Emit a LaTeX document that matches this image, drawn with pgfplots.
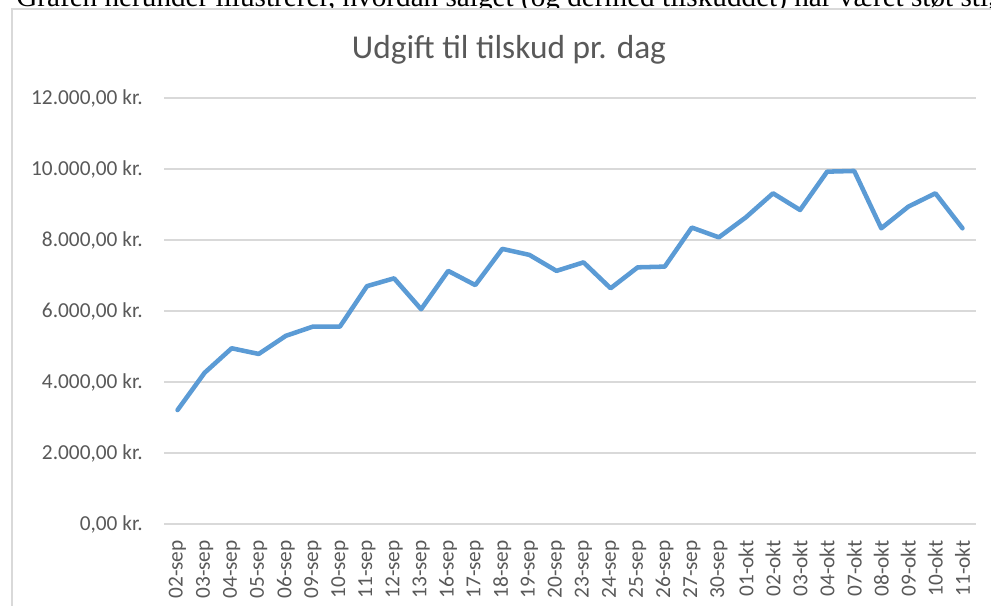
\documentclass[border=0pt]{standalone}
\usepackage{pgfplots}
\pgfplotsset{compat=1.18}
\usepackage{fontspec}
\setmainfont{Liberation Serif}
\newfontfamily\carlito{Carlito}
\definecolor{txtgray}{HTML}{595959}
\definecolor{gridgray}{HTML}{D9D9D9}
\definecolor{xlblue}{HTML}{5B9BD5}
\begin{document}
\begin{tikzpicture}
\useasboundingbox (0,0) rectangle (743.25pt,454.5pt);
% cropped text line above the chart
\node[anchor=base west, inner sep=0pt, font=\fontsize{21.9}{24}\selectfont] at (12pt,449.4pt)
  {Grafen herunder illustrerer, hvordan salget (og dermed tilskuddet) har været støt stigende};
% chart frame (white, covers the text below it)
\filldraw[fill=white, draw=gridgray, line width=1.2pt] (9pt,-10pt) rectangle (760pt,447.75pt);
% title
\node[anchor=base, inner sep=0pt, text=txtgray, font=\carlito\fontsize{25}{28}\selectfont] at (381.75pt,410.25pt)
  {Udgift til tilskud pr. dag};
\begin{axis}[
  at={(123pt,61.5pt)}, anchor=south west,
  scale only axis, width=609pt, height=319.5pt,
  xmin=-0.5, xmax=29.5, ymin=0, ymax=12000,
  scaled y ticks=false,
  axis line style={draw=none},
  axis x line*=bottom,
  ytick={0,2000,4000,6000,8000,10000,12000},
  yticklabels={{0,00 kr.},{2.000,00 kr.},{4.000,00 kr.},{6.000,00 kr.},{8.000,00 kr.},{10.000,00 kr.},{12.000,00 kr.}},
  xtick={0,...,29},
  xticklabels={02-sep,03-sep,04-sep,05-sep,06-sep,09-sep,10-sep,11-sep,12-sep,13-sep,16-sep,17-sep,18-sep,19-sep,20-sep,23-sep,24-sep,25-sep,26-sep,27-sep,30-sep,01-okt,02-okt,03-okt,04-okt,07-okt,08-okt,09-okt,10-okt,11-okt},
  major tick length=0pt,
  tick style={draw=none},
  ymajorgrids,
  grid style={gridgray, line width=1.1pt},
  yticklabel style={anchor=east, inner sep=0pt, xshift=-15.75pt, text=txtgray, font=\carlito\fontsize{16}{16}\selectfont},
  xticklabel style={yshift=-12pt, rotate=90, anchor=east, inner sep=0pt, text=txtgray, font=\carlito\fontsize{16}{16}\selectfont},
  clip=false,
]
\addplot[xlblue, line width=3.4pt, line join=round, line cap=round, mark=none] coordinates {
(0,3210) (1,4260) (2,4950) (3,4790) (4,5300) (5,5560) (6,5560) (7,6700) (8,6920) (9,6050)
(10,7130) (11,6730) (12,7750) (13,7580) (14,7130) (15,7370) (16,6640) (17,7230) (18,7250) (19,8350)
(20,8075) (21,8640) (22,9315) (23,8845) (24,9925) (25,9945) (26,8330) (27,8940) (28,9315) (29,8330)
};
\draw[gridgray, line width=1.1pt] (axis cs:-0.5,0) -- (axis cs:29.5,0);
\end{axis}
\end{tikzpicture}
\end{document}
